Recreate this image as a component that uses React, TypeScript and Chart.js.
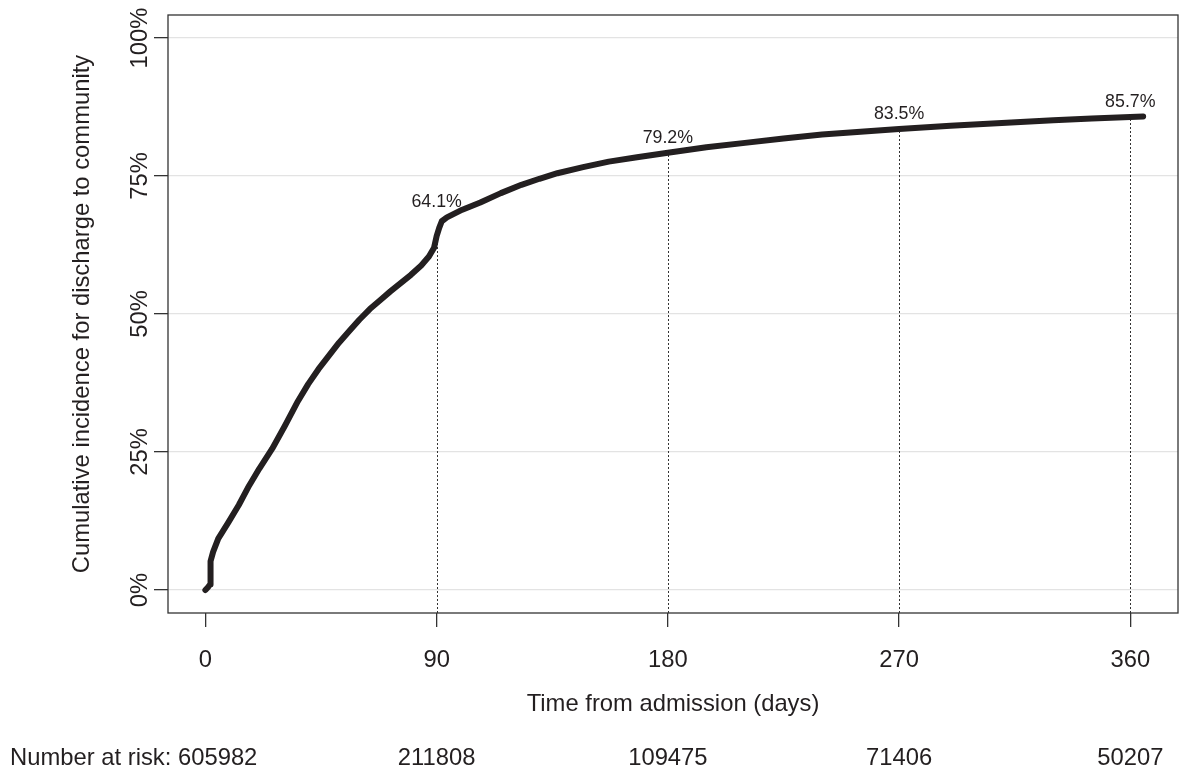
import { useEffect, useRef } from "react";
import { Chart, registerables } from "chart.js";

Chart.register(...registerables);

// ---- data ----
const days = [0, 1, 1.8, 2, 3, 5, 9, 13, 17, 21, 26, 31, 36, 40, 44, 48, 52, 56, 60, 64, 68, 72, 76, 80, 84, 87, 89, 90, 91, 92, 94, 100, 107, 115, 123, 130, 137, 147, 157, 168, 180, 195, 210, 225, 240, 255, 270, 290, 310, 330, 345, 360, 365];
const incidence = [0, 0.5, 1.0, 5.2, 6.9, 9.3, 12.3, 15.4, 18.9, 22.0, 25.6, 29.8, 34.2, 37.3, 40.0, 42.4, 44.8, 46.9, 49.0, 50.9, 52.5, 54.1, 55.6, 57.1, 58.8, 60.4, 62.0, 64.1, 65.6, 66.8, 67.5, 68.9, 70.2, 71.9, 73.4, 74.5, 75.5, 76.6, 77.6, 78.4, 79.2, 80.2, 81.0, 81.8, 82.5, 83.0, 83.5, 84.1, 84.6, 85.1, 85.4, 85.7, 85.8];

const xTicks = [0, 90, 180, 270, 360];
const yTicks = [0, 25, 50, 75, 100];
const yTickLabels = ["0%", "25%", "50%", "75%", "100%"];

const markDays = [90, 180, 270, 360];
const markValues = [64.1, 79.2, 83.5, 85.7];
const markLabels = ["64.1%", "79.2%", "83.5%", "85.7%"];

const riskDays = [0, 90, 180, 270, 360];
const riskCounts = ["605982", "211808", "109475", "71406", "50207"];

const xTitle = "Time from admission (days)";
const yTitle = "Cumulative incidence for discharge to community";
const riskPrefix = "Number at risk: ";

const FONT = "'Liberation Sans', Arial, Helvetica, sans-serif";
const FS = 23.8;
const TEXT = "#231f20";

const overlay = {
  id: "overlay",
  beforeDatasetsDraw(chart: any) {
    const { ctx, chartArea, scales } = chart;
    const x = scales.x, y = scales.y;
    ctx.save();
    ctx.strokeStyle = "#333";
    ctx.lineWidth = 1;
    ctx.setLineDash([2, 2]);
    markDays.forEach((d, i) => {
      const px = Math.round(x.getPixelForValue(d)) + 0.5;
      ctx.beginPath();
      ctx.moveTo(px, chartArea.bottom);
      ctx.lineTo(px, y.getPixelForValue(markValues[i]));
      ctx.stroke();
    });
    ctx.restore();
  },
  afterDraw(chart: any) {
    const { ctx, chartArea, scales } = chart;
    const x = scales.x, y = scales.y;
    ctx.save();
    // box
    ctx.strokeStyle = "#333";
    ctx.lineWidth = 1.3;
    ctx.strokeRect(chartArea.left, chartArea.top, chartArea.right - chartArea.left, chartArea.bottom - chartArea.top);

    ctx.fillStyle = TEXT;
    // annotations
    ctx.font = `17.8px ${FONT}`;
    ctx.textAlign = "center";
    ctx.textBaseline = "alphabetic";
    markDays.forEach((d, i) => {
      let anchor = markValues[i];
      days.forEach((dd, j) => {
        if (dd >= d && dd <= d + 4 && incidence[j] > anchor) anchor = incidence[j];
      });
      ctx.fillText(markLabels[i], x.getPixelForValue(d), y.getPixelForValue(anchor) - 10);
    });

    // y tick labels (rotated)
    ctx.font = `${FS}px ${FONT}`;
    yTicks.forEach((v, i) => {
      ctx.save();
      ctx.translate(147, y.getPixelForValue(v));
      ctx.rotate(-Math.PI / 2);
      ctx.textAlign = "center";
      ctx.fillText(yTickLabels[i], 0, 0);
      ctx.restore();
    });

    // y title
    ctx.save();
    ctx.translate(89, (chartArea.top + chartArea.bottom) / 2);
    ctx.rotate(-Math.PI / 2);
    ctx.textAlign = "center";
    ctx.fillText(yTitle, 0, 0);
    ctx.restore();

    // x title
    ctx.textAlign = "center";
    ctx.fillText(xTitle, (chartArea.left + chartArea.right) / 2, 711);

    // risk table
    ctx.textAlign = "left";
    ctx.fillText(riskPrefix + riskCounts[0], 10, 765);
    ctx.textAlign = "center";
    for (let i = 1; i < riskDays.length; i++) {
      ctx.fillText(riskCounts[i], x.getPixelForValue(riskDays[i]), 765);
    }
    ctx.restore();
  },
};

export default function App() {
  const ref = useRef<HTMLCanvasElement | null>(null);
  useEffect(() => {
    document.body.style.margin = "0";
    const canvas = ref.current!;
    const chart = new Chart(canvas, {
      type: "line",
      data: {
        datasets: [
          {
            data: days.map((d, i) => ({ x: d, y: incidence[i] })),
            borderColor: "#231f20",
            borderWidth: 6,
            borderCapStyle: "round",
            borderJoinStyle: "round",
            pointRadius: 0,
            tension: 0,
            fill: false,
          },
        ],
      },
      options: {
        animation: false,
        responsive: false,
        events: [],
        layout: { padding: { left: 0, top: 15, right: 4, bottom: 0 } },
        plugins: { legend: { display: false }, tooltip: { enabled: false } },
        scales: {
          x: {
            type: "linear",
            min: -14.56,
            max: 378.56,
            afterBuildTicks: (s: any) => {
              s.ticks = xTicks.map((v) => ({ value: v }));
            },
            afterFit: (s: any) => {
              s.height = 161;
            },
            grid: { drawOnChartArea: false, drawTicks: true, tickLength: 14, tickColor: "#333", lineWidth: 1.3 },
            border: { display: false },
            ticks: {
              font: { family: FONT, size: FS },
              color: TEXT,
              padding: 19,
              maxRotation: 0,
              autoSkip: false,
              callback: (v: any) => String(v),
            },
          },
          y: {
            type: "linear",
            min: -4.1667,
            max: 104.1667,
            afterBuildTicks: (s: any) => {
              s.ticks = yTicks.map((v) => ({ value: v }));
            },
            afterFit: (s: any) => {
              s.width = 168;
            },
            grid: { color: "#e3e3e3", lineWidth: 1.3, drawTicks: true, tickLength: 14, tickColor: "#333" },
            border: { display: false },
            ticks: { display: false },
          },
        },
      },
      plugins: [overlay],
    });
    return () => chart.destroy();
  }, []);
  return (
    <div style={{ position: "absolute", left: 0, top: 0, width: 1182, height: 774 }}>
      <canvas ref={ref} width={1182} height={774} style={{ display: "block" }} />
    </div>
  );
}
